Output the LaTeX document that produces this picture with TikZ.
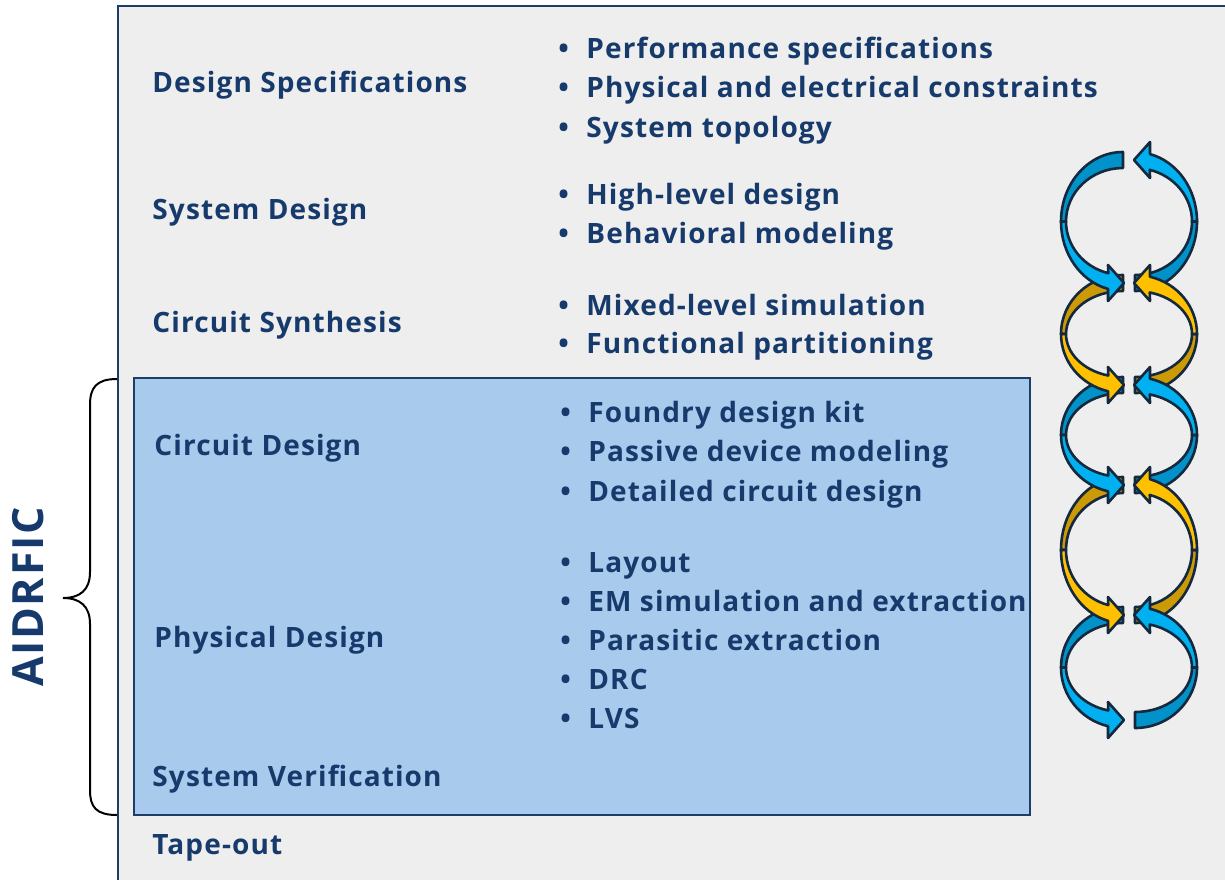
\documentclass[tikz,border=0pt]{standalone}
\usepackage{fontspec}
\setmainfont{Open Sans}[LetterSpace=4]
\usetikzlibrary{calc}
\definecolor{navy}{HTML}{163A6B}
\definecolor{framegray}{HTML}{EEEEEE}
\definecolor{framebd}{HTML}{1F3C68}
\definecolor{boxblue}{HTML}{A8CAEC}
\definecolor{bluelight}{HTML}{00B0F0}
\definecolor{bluedark}{HTML}{0092C9}
\definecolor{goldlight}{HTML}{FFC000}
\definecolor{golddark}{HTML}{CC9A06}
\definecolor{ringline}{HTML}{14293D}
\tikzset{
  heading/.style={anchor=base west, inner sep=0pt, text=navy,
    font=\bfseries\fontsize{14}{16}\selectfont},
  item/.style={anchor=base west, inner sep=0pt, text=navy,
    font=\bfseries\fontsize{14}{16}\selectfont},
  ringpart/.style={draw=ringline, line width=1.3pt, line join=round},
}
% one bulleted line: bullet, then the text
\newcommand{\bul}[1]{\makebox[14pt][l]{\textbullet}#1}
\begin{document}
\begin{tikzpicture}[x=0.5pt,y=-0.5pt]
\useasboundingbox (0,0) rectangle (1225,879);
\clip (0,0) rectangle (1225,879);
\fill[white] (0,0) rectangle (1225,879);

% outer grey panel
\draw[fill=framegray, draw=framebd, line width=1pt] (118,6) rectangle (1240,895);
% inner blue panel
\draw[fill=boxblue, draw=framebd, line width=1pt] (134,378) rectangle (1030,815);

% brace spanning the blue panel
\draw[line width=1pt, black] (117,379) .. controls (96,379) and (90,388) .. (90,405)
  -- (90,572) .. controls (90,590) and (80,598) .. (63,598)
  .. controls (80,598) and (90,606) .. (90,624)
  -- (90,790) .. controls (90,807) and (96,815) .. (117,815);
\node[rotate=90, text=navy, inner sep=0pt, font=\bfseries\fontsize{21.5}{26}\selectfont]
  (aidrfic) at (28,597) {AIDRFIC};

% stage names
\node[heading] (ds) at (152,92)  {Design Specifications};
\node[heading] (sd) at (152,219) {System Design};
\node[heading] (cs) at (152,332) {Circuit Synthesis};
\node[heading] (cd) at (154,455) {Circuit Design};
\node[heading] (pd) at (154,647) {Physical Design};
\node[heading] (sv) at (152,786) {System Verification};
\node[heading] (to) at (152,854) {Tape-out};

% stage details
\node[item] (i1)  at (558,58)  {\bul{Performance specifications}};
\node[item] (i2)  at (558,97)  {\bul{Physical and electrical constraints}};
\node[item] (i3)  at (558,137) {\bul{System topology}};
\node[item] (i4)  at (558,204) {\bul{High-level design}};
\node[item] (i5)  at (558,243) {\bul{Behavioral modeling}};
\node[item] (i6)  at (558,315) {\bul{Mixed-level simulation}};
\node[item] (i7)  at (558,353) {\bul{Functional partitioning}};
\node[item] (i8)  at (560,422) {\bul{Foundry design kit}};
\node[item] (i9)  at (560,461) {\bul{Passive device modeling}};
\node[item] (i10) at (560,501) {\bul{Detailed circuit design}};
\node[item] (i11) at (560,572) {\bul{Layout}};
\node[item] (i12) at (560,611) {\bul{EM simulation and extraction}};
\node[item] (i13) at (560,650) {\bul{Parasitic extraction}};
\node[item] (i14) at (560,689) {\bul{DRC}};
\node[item] (i15) at (560,728) {\bul{LVS}};

% chain of curved arrows: {top joint/bottom joint/light colour/dark colour}
\def\ringlist{160/283/bluelight/bluedark, 283/385/goldlight/golddark,
  385/485/bluelight/bluedark, 485/615/goldlight/golddark, 615/720/bluelight/bluedark}
% back (darker) halves first
\foreach \jt/\jb/\lc/\dc in \ringlist {
  \pgfmathsetmacro{\ringcy}{(\jt+\jb)/2}
  \pgfmathsetmacro{\ringbo}{(\jb-\jt)/2+8}
  \pgfmathsetmacro{\ringbi}{(\jb-\jt)/2-8}
  \filldraw[ringpart, fill=\dc] (1123,{\ringcy-\ringbo})
    arc[start angle=270, end angle=180, x radius=62, y radius=\ringbo] -- ++(5,0)
    arc[start angle=180, end angle=270, x radius=57, y radius=\ringbi] -- cycle;
  \filldraw[ringpart, fill=\dc] (1135,{\ringcy+\ringbo})
    arc[start angle=90, end angle=0, x radius=62, y radius=\ringbo] -- ++(-5,0)
    arc[start angle=0, end angle=90, x radius=57, y radius=\ringbi] -- cycle;
}
% front (lighter) halves with arrow heads
\foreach \jt/\jb/\lc/\dc in \ringlist {
  \pgfmathsetmacro{\ringcy}{(\jt+\jb)/2}
  \pgfmathsetmacro{\ringbo}{(\jb-\jt)/2+8}
  \pgfmathsetmacro{\ringbi}{(\jb-\jt)/2-8}
  \filldraw[ringpart, fill=\lc] (1061,\ringcy)
    arc[start angle=180, end angle=104, x radius=62, y radius=\ringbo]
    -- (1108,{\ringcy+\ringbo+10}) -- (1124,{\ringcy+\ringbo-8})
    -- (1108,{\ringcy+\ringbi-10})
    -- ({1123+57*cos(105)},{\ringcy+\ringbi*sin(105)})
    arc[start angle=105, end angle=180, x radius=57, y radius=\ringbi] -- cycle;
  \filldraw[ringpart, fill=\lc] (1197,\ringcy)
    arc[start angle=0, end angle=-76, x radius=62, y radius=\ringbo]
    -- (1150,{\ringcy-\ringbo-10}) -- (1134,{\ringcy-\ringbo+8})
    -- (1150,{\ringcy-\ringbi+10})
    -- ({1135+57*cos(75)},{\ringcy-\ringbi*sin(75)})
    arc[start angle=-75, end angle=0, x radius=57, y radius=\ringbi] -- cycle;
}
\end{tikzpicture}
\end{document}
